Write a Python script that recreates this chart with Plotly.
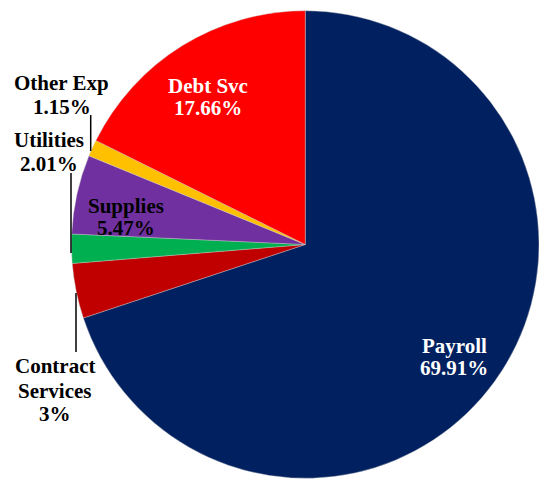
import plotly.graph_objects as go

# ---- data ----
categories = ["Payroll", "Contract Services", "Utilities", "Supplies", "Other Exp", "Debt Svc"]
values = [69.91, 3.80, 2.01, 5.47, 1.15, 17.66]
pct_labels = ["69.91%", "3%", "2.01%", "5.47%", "1.15%", "17.66%"]
colors = ["#002060", "#C00000", "#00B050", "#7030A0", "#FFC000", "#FF0000"]

W, H = 539, 479
FONT = "Liberation Serif, Times New Roman, serif"
FS = 21


def px(x):
    return x / W


def py(y):
    return 1 - y / H


fig = go.Figure(go.Pie(
    labels=categories,
    values=values,
    marker=dict(colors=colors, line=dict(color="rgba(200,200,200,0.8)", width=0.5)),
    sort=False,
    direction="clockwise",
    rotation=0,
    textinfo="none",
    hoverinfo="label+percent",
    showlegend=False,
    domain=dict(x=[px(71.5), 1.0], y=[py(479.0), py(10)]),
))

# label layout: (category index, line texts, center x, baselines, color)
label_layout = [
    (5, ["Debt Svc", pct_labels[5]], 208, [92, 114], "white"),
    (0, ["Payroll", pct_labels[0]], 454, [352, 374], "white"),
    (3, ["Supplies", pct_labels[3]], 126, [212, 234], "black"),
    (4, ["Other Exp", pct_labels[4]], 61.5, [89, 113], "black"),
    (2, ["Utilities", pct_labels[2]], 49, [146, 170], "black"),
    (1, ["Contract", "Services", pct_labels[1]], 54.5, [372, 397, 420], "black"),
]

annotations = []
for idx, lines, cx, baselines, col in label_layout:
    for t, b in zip(lines, baselines):
        annotations.append(dict(
            x=px(cx), y=py(b - 6), xref="paper", yref="paper",
            text="<b>%s</b>" % t, showarrow=False,
            xanchor="center", yanchor="middle",
            font=dict(family=FONT, size=FS, color=col),
        ))

# leader lines (x, y0, y1) in pixels
leaders = [(90.7, 115, 151), (71, 173, 253), (76, 293, 352)]
shapes = [dict(type="line", xref="paper", yref="paper",
               x0=px(x), x1=px(x), y0=py(a), y1=py(b),
               line=dict(color="black", width=1.5)) for x, a, b in leaders]

fig.update_layout(
    width=W, height=H,
    margin=dict(l=0, r=0, t=0, b=0),
    paper_bgcolor="white", plot_bgcolor="white",
    annotations=annotations, shapes=shapes,
)

fig.write_html(
    "out.html",
    config={"displayModeBar": False},
    post_script="document.body.style.margin='0';document.body.style.overflow='hidden';",
)
